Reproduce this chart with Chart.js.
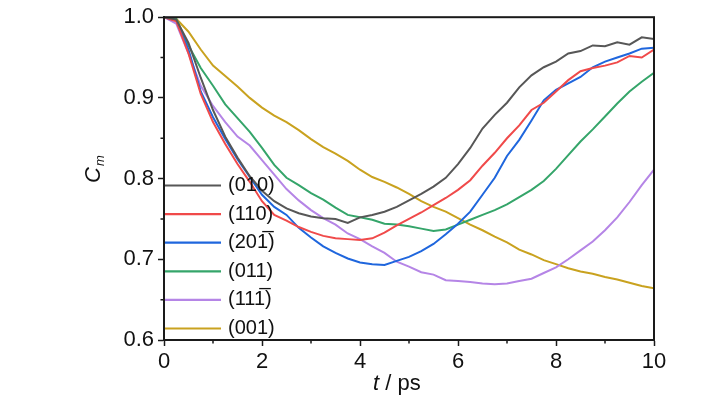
<!DOCTYPE html>
<html>
<head>
<meta charset="utf-8">
<script src="https://cdn.jsdelivr.net/npm/chart.js"></script>
<style>
html, body { margin: 0; padding: 0; background: #fff; }
#wrap { width: 728px; height: 399px; }
</style>
</head>
<body>
<div id="wrap"><canvas id="cmChart"></canvas></div>
<script>
// time axis, ps
var times = [0, 0.25, 0.5, 0.75, 1, 1.25, 1.5, 1.75, 2, 2.25, 2.5, 2.75, 3, 3.25, 3.5, 3.75, 4, 4.25, 4.5, 4.75,
    5, 5.25, 5.5, 5.75, 6, 6.25, 6.5, 6.75, 7, 7.25, 7.5, 7.75, 8, 8.25, 8.5, 8.75, 9, 9.25, 9.5, 9.75, 10];

var planeLabels = ['(010)', '(110)', '(201\u0305)', '(011)', '(111\u0305)', '(001)'];
var planeColors = ['#575757', '#f04a4a', '#1f66dd', '#35a56a', '#b585e6', '#c9a21f'];

var c010 = [1.0, 0.997, 0.968, 0.925, 0.885, 0.852, 0.826, 0.803, 0.785, 0.772, 0.763, 0.757, 0.753, 0.751, 0.750, 0.745, 0.752, 0.755, 0.759, 0.765,
    0.773, 0.781, 0.790, 0.801, 0.818, 0.838, 0.862, 0.879, 0.894, 0.913, 0.928, 0.938, 0.945, 0.955, 0.958, 0.965, 0.964, 0.969, 0.966, 0.975, 0.973];
var c110 = [1.0, 0.995, 0.955, 0.905, 0.870, 0.843, 0.818, 0.796, 0.772, 0.755, 0.748, 0.740, 0.734, 0.729, 0.726, 0.725, 0.724, 0.726, 0.733, 0.742,
    0.750, 0.758, 0.767, 0.776, 0.786, 0.798, 0.816, 0.832, 0.850, 0.866, 0.885, 0.894, 0.908, 0.922, 0.933, 0.937, 0.940, 0.944, 0.952, 0.950, 0.960];
var c201 = [1.0, 0.996, 0.960, 0.908, 0.876, 0.849, 0.824, 0.802, 0.780, 0.765, 0.755, 0.739, 0.727, 0.716, 0.708, 0.701, 0.696, 0.694, 0.693, 0.698,
    0.703, 0.710, 0.719, 0.731, 0.744, 0.759, 0.780, 0.801, 0.828, 0.848, 0.872, 0.897, 0.910, 0.918, 0.926, 0.938, 0.945, 0.950, 0.955, 0.961, 0.962];
var c011 = [1.0, 0.998, 0.965, 0.937, 0.915, 0.892, 0.875, 0.858, 0.838, 0.817, 0.801, 0.792, 0.782, 0.774, 0.764, 0.755, 0.752, 0.749, 0.744, 0.743,
    0.741, 0.738, 0.735, 0.737, 0.743, 0.749, 0.755, 0.761, 0.768, 0.777, 0.786, 0.797, 0.812, 0.829, 0.846, 0.861, 0.877, 0.893, 0.908, 0.920, 0.931];
var c111 = [1.0, 0.992, 0.955, 0.915, 0.890, 0.870, 0.852, 0.841, 0.823, 0.805, 0.787, 0.773, 0.761, 0.751, 0.743, 0.732, 0.725, 0.716, 0.708, 0.697,
    0.691, 0.684, 0.681, 0.674, 0.673, 0.672, 0.670, 0.669, 0.670, 0.673, 0.676, 0.683, 0.690, 0.700, 0.711, 0.722, 0.736, 0.752, 0.771, 0.792, 0.811];
var c001 = [1.0, 0.998, 0.982, 0.960, 0.940, 0.927, 0.914, 0.900, 0.888, 0.878, 0.870, 0.860, 0.849, 0.839, 0.831, 0.822, 0.811, 0.802, 0.796, 0.789,
    0.781, 0.772, 0.765, 0.759, 0.751, 0.743, 0.736, 0.728, 0.721, 0.712, 0.706, 0.699, 0.694, 0.689, 0.685, 0.682, 0.678, 0.675, 0.671, 0.667, 0.664];

var seriesValues = [c010, c110, c201, c011, c111, c001];

// minor tick positions
var xMinor = [1, 3, 5, 7, 9];
var yMinor = [0.65, 0.75, 0.85, 0.95];

function toPoints(values) {
    return values.map(function(v, i) { return { x: times[i], y: v }; });
}

var FONT = "'Liberation Sans', Arial, sans-serif";

function isMajorY(v) { return Math.round(v * 100) % 10 === 0; }

// box around the plot, minor ticks, in-plot legend and axis titles
var extrasPlugin = {
    id: 'extras',
    afterDraw: function(chart) {
        var ctx = chart.ctx;
        var a = chart.chartArea;
        var xs = chart.scales.x, ys = chart.scales.y;
        ctx.save();
        ctx.strokeStyle = '#1a1a1a';
        ctx.lineWidth = 2;
        ctx.strokeRect(a.left, a.top, a.right - a.left, a.bottom - a.top);

        ctx.lineWidth = 1.5;
        ctx.beginPath();
        xMinor.forEach(function(v) {
            var px = xs.getPixelForValue(v);
            ctx.moveTo(px, a.bottom);
            ctx.lineTo(px, a.bottom + 3.5);
        });
        yMinor.forEach(function(v) {
            var py = ys.getPixelForValue(v);
            ctx.moveTo(a.left, py);
            ctx.lineTo(a.left - 3.5, py);
        });
        ctx.stroke();

        ctx.font = '20px ' + FONT;
        ctx.textBaseline = 'middle';
        ctx.fillStyle = '#111';
        for (var i = 0; i < planeLabels.length; i++) {
            var y = 185.5 + i * 28.6;
            ctx.strokeStyle = planeColors[i];
            ctx.lineWidth = 2.2;
            ctx.beginPath();
            ctx.moveTo(a.left + 1, y);
            ctx.lineTo(221, y);
            ctx.stroke();
            ctx.fillText(planeLabels[i], 228, y);
        }

        // x title: t / ps
        ctx.textBaseline = 'alphabetic';
        ctx.font = 'italic 22px ' + FONT;
        ctx.fillText('t', 373, 390);
        var tw = ctx.measureText('t').width;
        ctx.font = '22px ' + FONT;
        ctx.fillText(' / ps', 373 + tw, 390);

        // y title: C_m
        ctx.translate(100, 183);
        ctx.rotate(-Math.PI / 2);
        ctx.font = 'italic 22px ' + FONT;
        ctx.fillText('C', 0, 0);
        var cw = ctx.measureText('C').width;
        ctx.font = 'italic 13px ' + FONT;
        ctx.fillText('m', cw + 1, 4);
        ctx.restore();
    }
};

var cmChart = new Chart(document.getElementById('cmChart'), {
    type: 'line',
    data: {
        datasets: seriesValues.map(function(vals, i) {
            return {
                label: planeLabels[i],
                data: toPoints(vals),
                borderColor: planeColors[i],
                borderWidth: 2,
                pointRadius: 0,
                tension: 0,
                fill: false
            };
        })
    },
    options: {
        responsive: true,
        maintainAspectRatio: false,
        animation: false,
        layout: { padding: { top: 7, right: 74, left: 0, bottom: 0 } },
        plugins: {
            legend: { display: false },
            tooltip: { enabled: false }
        },
        scales: {
            x: {
                type: 'linear',
                min: 0,
                max: 10,
                afterFit: function(scale) { scale.height = 59; },
                border: { color: '#1a1a1a', width: 2 },
                grid: {
                    drawOnChartArea: false,
                    tickLength: 6,
                    tickWidth: 1.5,
                    tickColor: function(c) { return c.tick && c.tick.value % 2 === 0 ? '#1a1a1a' : 'rgba(0,0,0,0)'; }
                },
                ticks: {
                    stepSize: 1,
                    autoSkip: false,
                    maxRotation: 0,
                    padding: 3,
                    color: '#111',
                    font: { family: FONT, size: 22 },
                    callback: function(v) { return v % 2 === 0 ? String(v) : ''; }
                }
            },
            y: {
                min: 0.6,
                max: 1.0,
                afterFit: function(scale) { scale.width = 164; },
                border: { color: '#1a1a1a', width: 2 },
                grid: {
                    drawOnChartArea: false,
                    tickLength: 6,
                    tickWidth: 1.5,
                    tickColor: function(c) { return c.tick && isMajorY(c.tick.value) ? '#1a1a1a' : 'rgba(0,0,0,0)'; }
                },
                ticks: {
                    stepSize: 0.05,
                    autoSkip: false,
                    padding: 4,
                    color: '#111',
                    font: { family: FONT, size: 22 },
                    callback: function(v) {
                        return isMajorY(v) ? (Math.round(v * 10) / 10).toFixed(1) : '';
                    }
                }
            }
        }
    },
    plugins: [extrasPlugin]
});
</script>
</body>
</html>
